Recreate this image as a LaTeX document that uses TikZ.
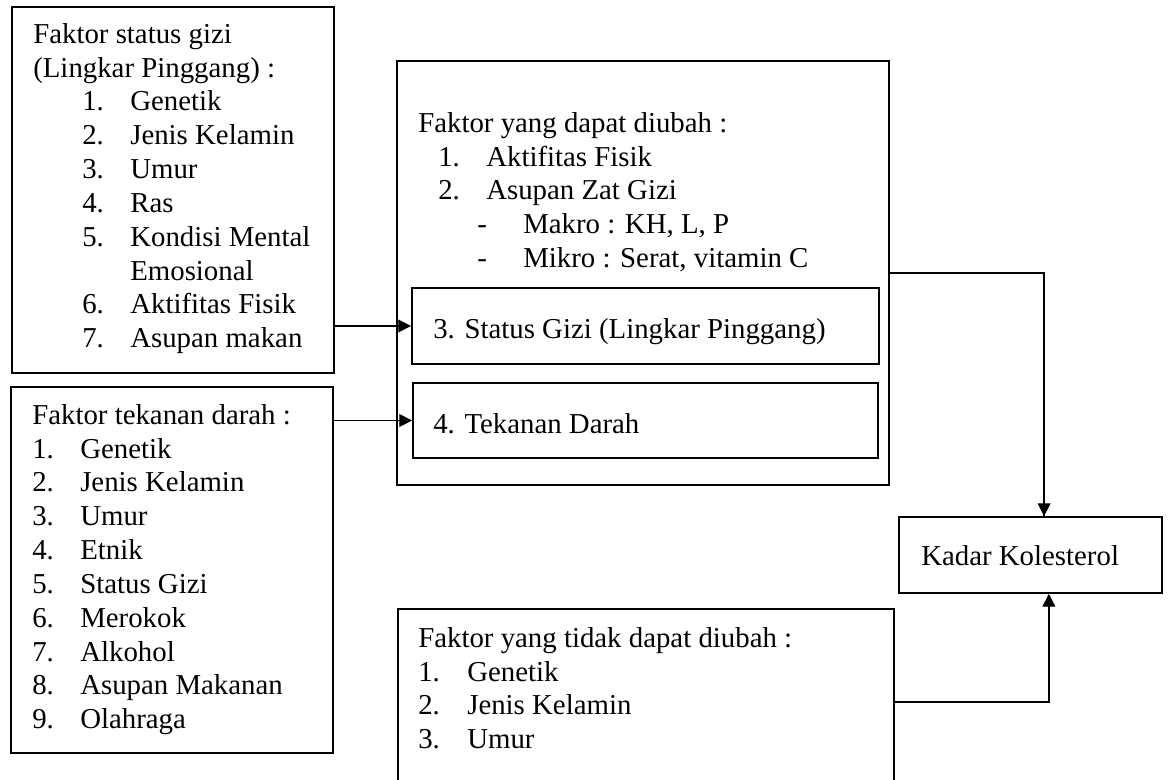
\documentclass[tikz,border=0pt]{standalone}
\usepackage{fontspec}
\setmainfont{Liberation Serif}
\usepackage{tikz}
\usetikzlibrary{arrows.meta}

\newcommand{\li}[3]{\hspace*{#1}\makebox[#2][l]{#3}}

\tikzset{
    box/.style={draw, line width=1.2pt, inner sep=0pt},
    txt/.style={anchor=north west, inner sep=0pt, align=left,
        font=\fontsize{20.5}{24.05}\selectfont},
    arr/.style={line width=0.9pt, -{Triangle[length=0.32cm, width=0.32cm]}},
    link/.style={line width=0.9pt}
}

\begin{document}
\begin{tikzpicture}[x=0.025cm, y=-0.025cm]
        \clip (0,0) rectangle (1170,780);

        % boxes
        \node[box, minimum width=8.05cm, minimum height=9.15cm] (gizi) at (173,190) {};
        \node[box, minimum width=8.05cm, minimum height=9.15cm] (tensi) at (172,570) {};
        \node[box, minimum width=12.3cm, minimum height=10.6cm] (ubah) at (643,273) {};
        \node[box, minimum width=11.675cm, minimum height=1.9cm] (sg) at (645.5,326) {};
        \node[box, minimum width=11.625cm, minimum height=1.875cm] (td) at (645.5,420.5) {};
        \node[box, minimum width=6.575cm, minimum height=1.9cm] (kadar) at (1030.5,555) {};
        \node[box, minimum width=12.4cm, minimum height=4.65cm] (tetap) at (646,702) {};

        % texts
        \node[txt] (gizitxt) at (33,19.4) {\strut Faktor status gizi\\
            (Lingkar Pinggang) :\\
            \li{1.225cm}{1.2cm}{1.}Genetik\\
            \li{1.225cm}{1.2cm}{2.}Jenis Kelamin\\
            \li{1.225cm}{1.2cm}{3.}Umur\\
            \li{1.225cm}{1.2cm}{4.}Ras\\
            \li{1.225cm}{1.2cm}{5.}Kondisi Mental\\
            \li{2.425cm}{0cm}{}Emosional\\
            \li{1.225cm}{1.2cm}{6.}Aktifitas Fisik\\
            \li{1.225cm}{1.2cm}{7.}Asupan makan};
        \node[txt] (tensitxt) at (32,400.4) {\strut Faktor tekanan darah :\\
            \li{0cm}{1.2cm}{1.}Genetik\\
            \li{0cm}{1.2cm}{2.}Jenis Kelamin\\
            \li{0cm}{1.2cm}{3.}Umur\\
            \li{0cm}{1.2cm}{4.}Etnik\\
            \li{0cm}{1.2cm}{5.}Status Gizi\\
            \li{0cm}{1.2cm}{6.}Merokok\\
            \li{0cm}{1.2cm}{7.}Alkohol\\
            \li{0cm}{1.2cm}{8.}Asupan Makanan\\
            \li{0cm}{1.2cm}{9.}Olahraga};
        \node[txt] (ubahtxt) at (418,108.4) {\strut Faktor yang dapat diubah :\\
            \li{0.5cm}{1.2cm}{1.}Aktifitas Fisik\\
            \li{0.5cm}{1.2cm}{2.}Asupan Zat Gizi\\
            \li{1.475cm}{1.15cm}{-}Makro : KH, L, P\\
            \li{1.475cm}{1.15cm}{-}Mikro : Serat, vitamin C};
        \node[txt] (sgtxt) at (433,314.4) {\strut 3. Status Gizi (Lingkar Pinggang)};
        \node[txt] (tdtxt) at (433,409.4) {\strut 4. Tekanan Darah};
        \node[txt] (kadartxt) at (921,541.4) {\strut Kadar Kolesterol};
        \node[txt] (tetaptxt) at (418,623.4) {\strut Faktor yang tidak dapat diubah :\\
            \li{0cm}{1.225cm}{1.}Genetik\\
            \li{0cm}{1.225cm}{2.}Jenis Kelamin\\
            \li{0cm}{1.225cm}{3.}Umur};

        % connectors
        \draw[arr] (gizi.east |- sg.west) -- (sg.west);
        \draw[arr] (tensi.east |- td.west) -- (td.west);
        \draw[link] (ubah.east) -| ([xshift=0.34cm]kadar.north);
        \draw[arr] ([xshift=0.34cm]kadar.north |- ubah.east) -- ([xshift=0.34cm]kadar.north);
        \draw[arr] (tetap.east) -| ([xshift=0.46cm]kadar.south);
\end{tikzpicture}
\end{document}
